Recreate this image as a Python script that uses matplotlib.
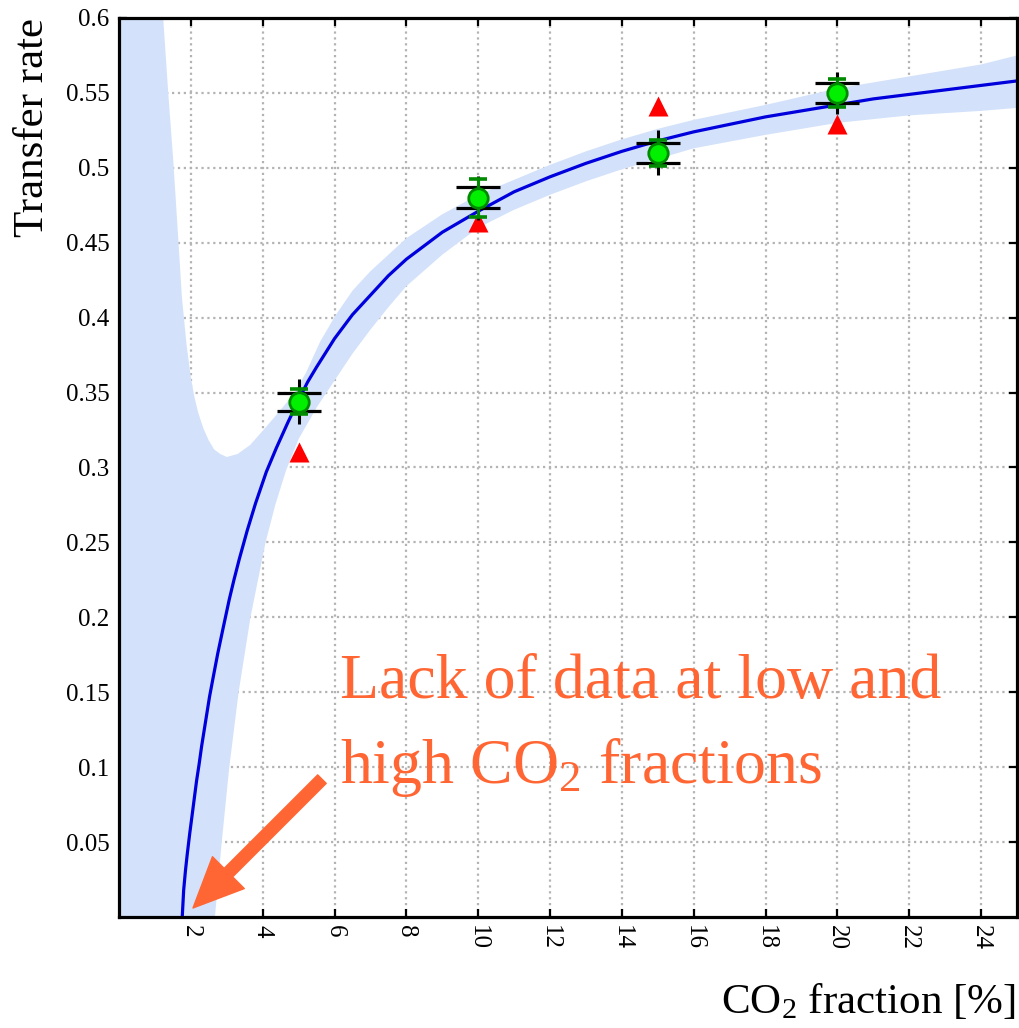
import numpy as np
import matplotlib
matplotlib.use("Agg")
import matplotlib.pyplot as plt

plt.rcParams['font.family'] = ['Liberation Serif', 'DejaVu Serif']
plt.rcParams['mathtext.fontset'] = 'custom'
plt.rcParams['mathtext.rm'] = 'Liberation Serif'
plt.rcParams['mathtext.it'] = 'Liberation Serif:italic'

# measured points
co2 = [5, 10, 15, 20]
rate = [0.344, 0.480, 0.510, 0.550]
stat_err = [0.0086, 0.0125, 0.0087, 0.0095]
sys_err = [0.0060, 0.0069, 0.0066, 0.0065]
tot_err = [0.0150, 0.0147, 0.0150, 0.0140]

# second data set (red triangles)
rate_alt = [0.310, 0.464, 0.541, 0.529]

# fitted curve
fit_x = [1.76, 1.80, 1.85, 1.90, 1.97, 2.03, 2.10, 2.16, 2.23, 2.30, 2.42, 2.52,
         2.63, 2.75, 2.90, 3.07, 3.20, 3.35, 3.57, 3.80, 4.10, 4.38, 4.70, 5.00,
         5.25, 5.50, 6.00, 6.50, 7.00, 7.50, 8.00, 8.50, 9.00, 9.50, 10.0, 11.0,
         12.0, 13.0, 14.0, 15.0, 16.0, 17.0, 18.0, 19.0, 20.0, 21.0, 22.0, 23.0,
         24.0, 25.0]
fit_y = [0.000, 0.018, 0.031, 0.042, 0.056, 0.067, 0.080, 0.091, 0.102, 0.114, 0.132, 0.147,
         0.161, 0.176, 0.193, 0.212, 0.225, 0.239, 0.258, 0.276, 0.297, 0.313, 0.330, 0.345,
         0.357, 0.367, 0.386, 0.402, 0.415, 0.428, 0.439, 0.448, 0.457, 0.464, 0.471, 0.484,
         0.494, 0.503, 0.511, 0.518, 0.524, 0.529, 0.534, 0.538, 0.542, 0.546, 0.549, 0.552,
         0.555, 0.558]

# confidence band edges
band_up_x = [1.23, 1.37, 1.51, 1.63, 1.75, 1.88, 2.00, 2.10, 2.20, 2.35, 2.50, 2.65,
             2.82, 3.00, 3.30, 3.65, 4.02, 4.45, 4.86, 5.20, 5.60, 6.04, 6.50, 7.00,
             8.00, 9.00, 10.0, 11.0, 12.0, 13.0, 14.0, 15.0, 16.0, 18.0, 20.0, 22.0,
             24.0, 25.0]
band_up_y = [0.600, 0.550, 0.505, 0.460, 0.414, 0.382, 0.360, 0.347, 0.337, 0.326, 0.318, 0.312,
             0.309, 0.307, 0.309, 0.315, 0.325, 0.337, 0.349, 0.363, 0.384, 0.402, 0.418, 0.431,
             0.453, 0.469, 0.482, 0.492, 0.502, 0.511, 0.519, 0.526, 0.532, 0.542, 0.553, 0.561,
             0.569, 0.575]
band_lo_x = [2.67, 2.86, 3.07, 3.33, 3.66, 4.08, 4.35, 4.65, 5.00, 5.50, 6.00, 6.50,
             7.00, 7.50, 8.00, 9.00, 10.0, 11.0, 12.0, 13.0, 14.0, 15.0, 16.0, 18.0,
             20.0, 22.0, 24.0, 25.0]
band_lo_y = [0.000, 0.050, 0.100, 0.150, 0.200, 0.250, 0.275, 0.298, 0.319, 0.340, 0.358, 0.376,
             0.392, 0.407, 0.421, 0.442, 0.460, 0.472, 0.482, 0.491, 0.499, 0.506, 0.513, 0.522,
             0.530, 0.535, 0.538, 0.540]

xticks = [2, 4, 6, 8, 10, 12, 14, 16, 18, 20, 22, 24]
yticks = [0.05, 0.1, 0.15, 0.2, 0.25, 0.3, 0.35, 0.4, 0.45, 0.5, 0.55, 0.6]
ytick_labels = ['0.05', '0.1', '0.15', '0.2', '0.25', '0.3', '0.35', '0.4', '0.45', '0.5', '0.55', '0.6']

fig = plt.figure(figsize=(10.19, 10.28), dpi=100)
ax = fig.add_axes([0.1168, 0.108, 0.8812, 0.8745])

# band polygon: everything left of the upper edge plus the strip around the curve
poly_x = [0, 0] + band_up_x + band_lo_x[::-1]
poly_y = [0, 0.6] + band_up_y + band_lo_y[::-1]
ax.fill(poly_x, poly_y, color='#d3e2fa', lw=0, zorder=1)

ax.plot(fit_x, fit_y, color='#0000dd', lw=2.3, zorder=2)

ax.plot(co2, rate_alt, ls='none', marker='^', ms=14, color='#ff0000', mec='none', zorder=3)

ax.errorbar(co2, rate, yerr=tot_err, fmt='none', ecolor='black', elinewidth=2.2, capsize=0, zorder=4)
ax.errorbar(co2, rate, yerr=sys_err, fmt='none', ecolor='black', elinewidth=0, capsize=16, capthick=2.3, zorder=4)
ax.errorbar(co2, rate, yerr=stat_err, fmt='none', ecolor='#008a00', elinewidth=2.2, capsize=6.5, capthick=2.6, zorder=5)
ax.plot(co2, rate, ls='none', marker='o', ms=14, mfc='#00f000', mec='#008a00', mew=2, zorder=6)

ax.set_xlim(0, 25)
ax.set_ylim(0, 0.6)
ax.set_xticks(xticks)
ax.set_xticklabels([str(t) for t in xticks], rotation=-90)
ax.set_yticks(yticks)
ax.set_yticklabels(ytick_labels)
ax.tick_params(direction='in', length=6, width=1.6, labelsize=18, top=True, right=True)
ax.tick_params(axis='y', pad=7)
ax.tick_params(axis='x', pad=6)
for s in ax.spines.values():
    s.set_linewidth(2.3)
ax.grid(True, ls=':', color='#b3b3b3', lw=1.6)
ax.set_axisbelow(True)

ax.text(-0.096, 1.0, 'Transfer rate', transform=ax.transAxes, rotation=90,
        ha='center', va='top', fontsize=31)
ax.text(0.998, -0.1068, 'CO$_2$ fraction [%]', transform=ax.transAxes,
        ha='right', va='baseline', fontsize=31)

note_color = '#ff6633'
ax.text(0.246, 0.2436, 'Lack of data at low and', transform=ax.transAxes,
        ha='left', va='baseline', fontsize=46, color=note_color)
ax.text(0.246, 0.149, 'high CO$_2$ fractions', transform=ax.transAxes,
        ha='left', va='baseline', fontsize=46, color=note_color)
ax.annotate('', xy=(2.06, 0.006), xytext=(5.65, 0.092),
            arrowprops=dict(arrowstyle='simple,head_length=1.0,head_width=0.9,tail_width=0.24',
                            color=note_color, mutation_scale=36, shrinkA=0, shrinkB=0),
            zorder=7)

fig.savefig('out.png', dpi=100)
